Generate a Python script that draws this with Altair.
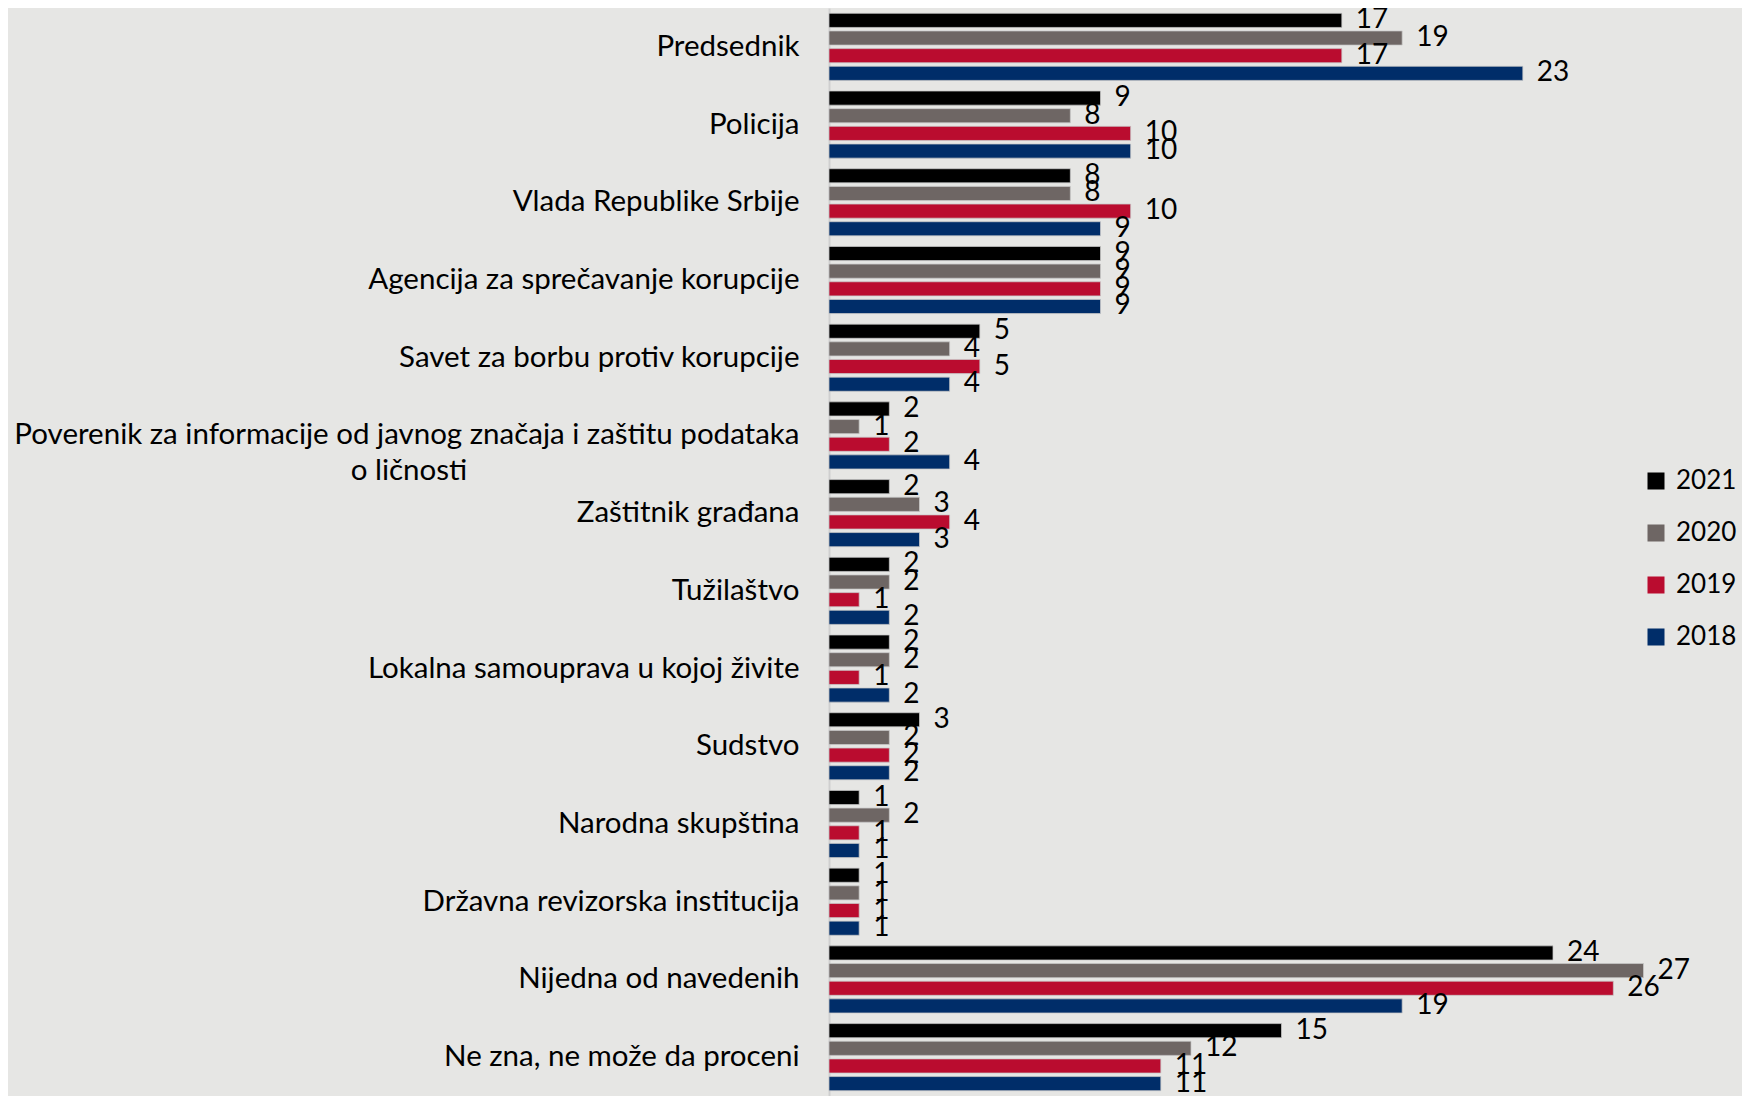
import json
import altair as alt
import pandas as pd

categories = [
    "Predsednik",
    "Policija",
    "Vlada Republike Srbije",
    "Agencija za sprečavanje korupcije",
    "Savet za borbu protiv korupcije",
    "Poverenik za informacije od javnog značaja i zaštitu podataka o ličnosti",
    "Zaštitnik građana",
    "Tužilaštvo",
    "Lokalna samouprava u kojoj živite",
    "Sudstvo",
    "Narodna skupština",
    "Državna revizorska institucija",
    "Nijedna od navedenih",
    "Ne zna, ne može da proceni",
]
years = ["2021", "2020", "2019", "2018"]
v2021 = [17, 9, 8, 9, 5, 2, 2, 2, 2, 3, 1, 1, 24, 15]
v2020 = [19, 8, 8, 9, 4, 1, 3, 2, 2, 2, 2, 1, 27, 12]
v2019 = [17, 10, 10, 9, 5, 2, 4, 1, 1, 2, 1, 1, 26, 11]
v2018 = [23, 10, 9, 9, 4, 4, 3, 2, 2, 2, 1, 1, 19, 11]
colors = ["#000000", "#6E6664", "#BA0C2F", "#002D69"]

rows = []
for i, c in enumerate(categories):
    for y, vals in zip(years, [v2021, v2020, v2019, v2018]):
        rows.append({"kategorija": c, "godina": y, "vrednost": vals[i]})
df = pd.DataFrame(rows)

pov = categories[5]
line1 = "Poverenik za informacije od javnog značaja i zaštitu podataka"
# trailing no-break spaces (closed by a word joiner) centre the second line
line2 = "o ličnosti" + "\u00a0" * 44 + "\u2060"
label_expr = (
    f"datum.value == {json.dumps(pov, ensure_ascii=False)} ? "
    f"[{json.dumps(line1, ensure_ascii=False)}, {json.dumps(line2, ensure_ascii=False)}] : datum.value"
)

base = alt.Chart(df).encode(
    y=alt.Y(
        "kategorija:N",
        sort=categories,
        scale=alt.Scale(paddingInner=0, paddingOuter=0),
        axis=alt.Axis(
            title=None,
            labelFont="Lato",
            labelFontSize=29.5,
            labelColor="#000000",
            labelPadding=30,
            labelLimit=0,
            ticks=False,
            grid=False,
            domainColor="#cfcfcf",
            domainWidth=2,
            labelExpr=label_expr,
            labelLineHeight=36,
        ),
    ),
    yOffset=alt.YOffset(
        "godina:N", sort=years, scale=alt.Scale(paddingInner=0.2, paddingOuter=0.3)
    ),
)

bars = base.mark_bar(stroke="#c8c8c8", strokeWidth=0.75).encode(
    x=alt.X("vrednost:Q", scale=alt.Scale(domain=[0, 30], nice=False), axis=None),
    color=alt.Color(
        "godina:N",
        sort=years,
        scale=alt.Scale(domain=years, range=colors),
        legend=alt.Legend(
            title=None,
            orient="none",
            legendX=814,
            legendY=460,
            symbolType="square",
            symbolSize=289,
            symbolStrokeWidth=0,
            symbolOpacity=1,
            labelFont="Lato",
            labelFontSize=26,
            labelColor="#000000",
            labelOffset=7,
            rowPadding=26,
        ),
    ),
)

labels = base.mark_text(
    align="left", baseline="middle", dx=14, font="Lato", fontSize=28, color="#000000"
).encode(
    x=alt.X("vrednost:Q", scale=alt.Scale(domain=[0, 30], nice=False), axis=None),
    text="vrednost:Q",
)

chart = (
    alt.layer(bars, labels)
    .properties(
        width=905,
        height=1088,
        autosize=alt.AutoSizeParams(type="none"),
        padding={"left": 821, "top": 0, "right": 8, "bottom": 0},
        background="#E6E6E4",
    )
    .configure_view(stroke=None)
)

chart.save("out.html", embed_options={"renderer": "svg", "actions": False})
